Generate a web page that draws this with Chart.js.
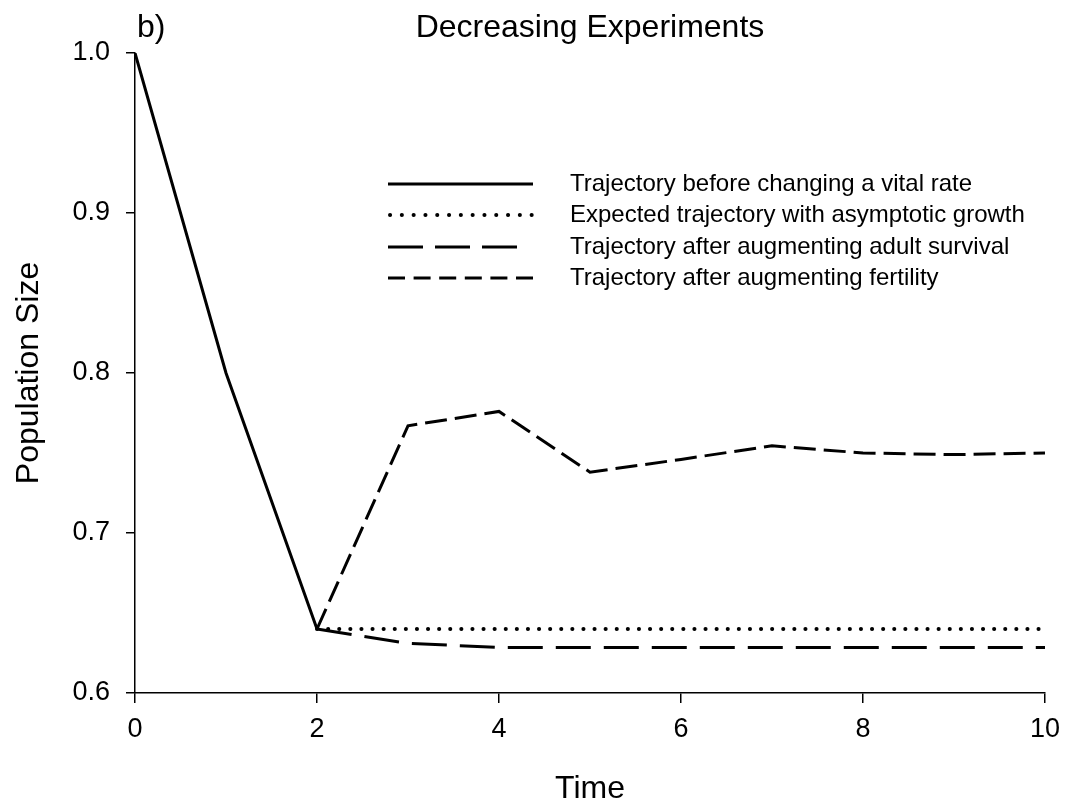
<!DOCTYPE html>
<html>
<head>
<meta charset="utf-8">
<script src="https://cdn.jsdelivr.net/npm/chart.js@4"></script>
<style>
  html, body { margin: 0; padding: 0; background: #fff; }
  #wrap { width: 1070px; height: 811px; }
</style>
</head>
<body>
<div id="wrap"><canvas id="grafico"></canvas></div>
<script>
// Datos
const tiempo = [0, 1, 2, 3, 4, 5, 6, 7, 8, 9, 10];
const antes = [1.0, 0.80, 0.64];
const asintotico = [null, null, 0.64, 0.64, 0.64, 0.64, 0.64, 0.64, 0.64, 0.64, 0.64];
const supervivencia = [null, null, 0.64, 0.631, 0.6285, 0.6285, 0.6285, 0.6285, 0.6285, 0.6285, 0.6285];
const fertilidad = [null, null, 0.64, 0.767, 0.776, 0.738, 0.746, 0.7545, 0.750, 0.749, 0.750];
const ticksX = [0, 2, 4, 6, 8, 10];
const ticksY = [0.6, 0.7, 0.8, 0.9, 1.0];
const leyenda = [
  'Trajectory before changing a vital rate',
  'Expected trajectory with asymptotic growth',
  'Trajectory after augmenting adult survival',
  'Trajectory after augmenting fertility'
];

const fuente = '"Liberation Sans", Arial, sans-serif';
const aPuntos = (arr) => arr.map((v, i) => ({ x: tiempo[i], y: v })).filter(p => p.y !== null);

const estilos = [
  { dash: [], cap: 'butt', ancho: 3 },
  { dash: [0.1, 11], cap: 'round', ancho: 4 },
  { dash: [35, 13], cap: 'butt', ancho: 3 },
  { dash: [22, 8], cap: 'butt', ancho: 3 }
];

// Leyenda y textos dibujados a mano
const extras = {
  id: 'extras',
  afterDraw(chart) {
    const ctx = chart.ctx;
    const area = chart.chartArea;
    ctx.save();
    ctx.fillStyle = '#000';
    ctx.textBaseline = 'middle';
    ctx.font = '32px ' + fuente;
    ctx.textAlign = 'center';
    ctx.fillText('Decreasing Experiments', (area.left + area.right) / 2, 28);
    ctx.textAlign = 'left';
    ctx.fillText('b)', 137, 28);

    const filas = [184, 215, 247, 278];
    const legDash = [[], [0.1, 11.7], [35, 12], [17, 8.6]];
    const finales = [533, 533, 518, 533];
    ctx.font = '24px ' + fuente;
    for (let i = 0; i < leyenda.length; i++) {
      ctx.beginPath();
      ctx.lineWidth = estilos[i].ancho;
      ctx.strokeStyle = '#000';
      ctx.setLineDash(legDash[i]);
      ctx.lineCap = estilos[i].cap;
      ctx.moveTo(i === 1 ? 390 : 388, filas[i]);
      ctx.lineTo(finales[i], filas[i]);
      ctx.stroke();
      ctx.setLineDash([]);
      ctx.fillText(leyenda[i], 570, filas[i]);
    }
    ctx.restore();
  }
};

const series = [antes, asintotico, supervivencia, fertilidad];
const datasets = series.map((s, i) => ({
  label: leyenda[i],
  data: aPuntos(s),
  borderColor: '#000',
  borderWidth: estilos[i].ancho,
  borderDash: estilos[i].dash,
  borderCapStyle: estilos[i].cap,
  pointRadius: 0,
  fill: false,
  tension: 0,
  order: 3 - i
}));

new Chart(document.getElementById('grafico'), {
  type: 'line',
  data: { datasets: datasets },
  options: {
    responsive: true,
    maintainAspectRatio: false,
    animation: false,
    layout: { padding: { top: 53, right: 22, left: 0, bottom: 0 } },
    plugins: { legend: { display: false }, tooltip: { enabled: false } },
    scales: {
      x: {
        type: 'linear',
        min: 0,
        max: 10,
        afterBuildTicks: (axis) => { axis.ticks = ticksX.map(v => ({ value: v })); },
        afterFit: (axis) => { axis.height = 118; },
        ticks: { color: '#000', font: { family: fuente, size: 27 }, padding: 10, maxRotation: 0 },
        grid: { drawOnChartArea: false, drawTicks: true, tickLength: 10, color: '#000', lineWidth: 1.5 },
        border: { display: true, color: '#000', width: 1.5 },
        title: { display: true, text: 'Time', color: '#000', font: { family: fuente, size: 32 }, padding: { top: 0, bottom: 3 } }
      },
      y: {
        min: 0.6,
        max: 1.0,
        afterBuildTicks: (axis) => { axis.ticks = ticksY.map(v => ({ value: v })); },
        afterFit: (axis) => { axis.width = 135; },
        ticks: { color: '#000', font: { family: fuente, size: 27 }, padding: 16, callback: (v) => v.toFixed(1) },
        grid: { drawOnChartArea: false, drawTicks: true, tickLength: 9, color: '#000', lineWidth: 1.5 },
        border: { display: true, color: '#000', width: 1.5 },
        title: { display: true, text: 'Population Size', color: '#000', font: { family: fuente, size: 32 }, padding: { top: 10, bottom: 0 } }
      }
    }
  },
  plugins: [extras]
});
</script>
</body>
</html>
